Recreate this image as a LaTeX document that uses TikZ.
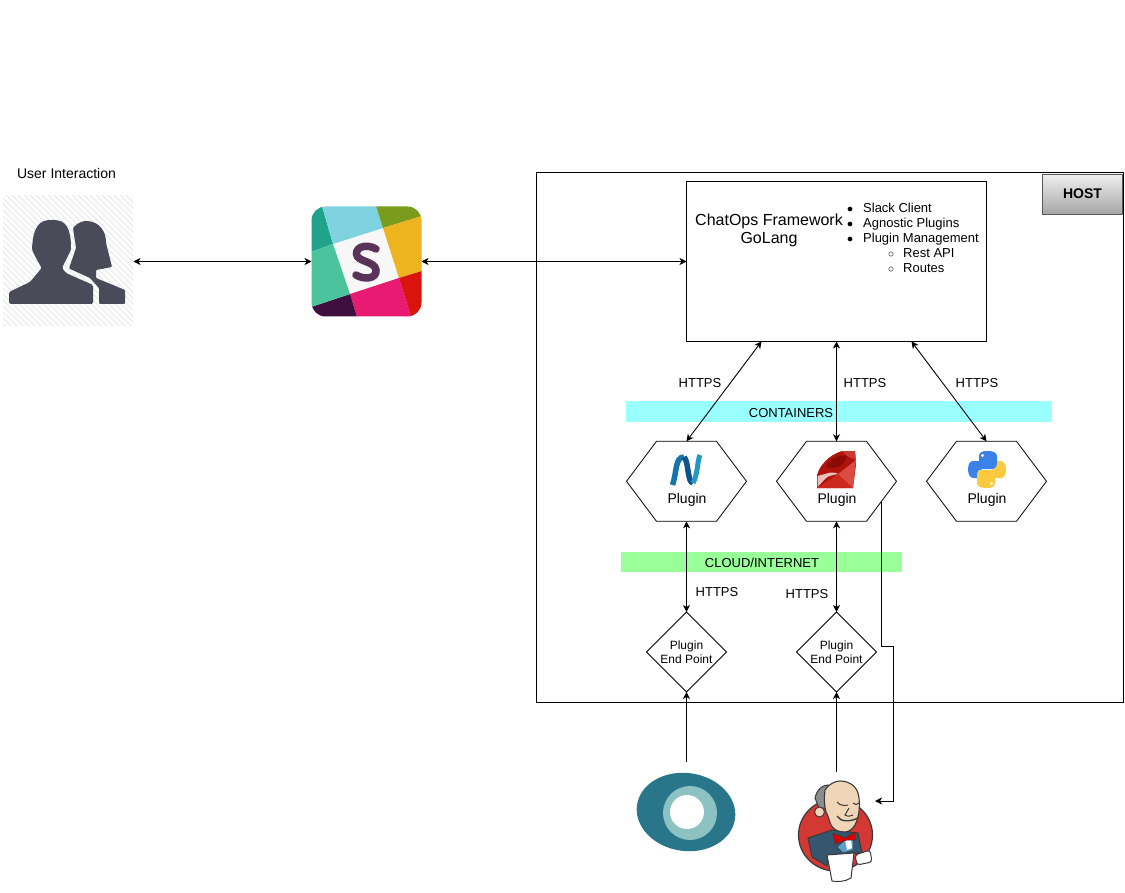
\documentclass[tikz,border=0pt]{standalone}
\usepackage{fontspec}
\setmainfont{Liberation Sans}
\usetikzlibrary{calc,arrows.meta,shapes.geometric,shapes.symbols}
\definecolor{bluebar}{HTML}{99FFFF}
\definecolor{greenbar}{HTML}{99FF99}
\definecolor{usergray}{HTML}{494C58}
\definecolor{eyeteal}{HTML}{29768A}
\definecolor{eyering}{HTML}{8CC2C2}
\definecolor{jenknavy}{HTML}{35566E}
\definecolor{jenkred}{HTML}{D33833}
\definecolor{jenkskin}{HTML}{F0D6B7}
\definecolor{jenkline}{HTML}{3A3A3A}
\def\fsmall{\fontsize{12}{13.5}\selectfont}
\def\fnorm{\fontsize{13}{15}\selectfont}
\def\fmid{\fontsize{14}{16}\selectfont}
\def\fbig{\fontsize{16}{18}\selectfont}
\def\drawlink{\draw[link]}
\def\plugnode{\node[plughex]}
\def\endnode{\node[enddiamond]}
\def\snakepath{(979,461) -- (979,456) .. controls (979,452) and (983,451) .. (987,451)
  .. controls (992,451) and (997,452) .. (997,456) -- (997,465)
  .. controls (997,467) and (995,469) .. (993,469) -- (983,469)
  .. controls (980,469) and (977,471) .. (977,474) -- (977,478) -- (973,478)
  .. controls (970,478) and (968,474) .. (968,469.5)
  .. controls (968,464) and (970,461) .. (973,461) -- cycle}
\tikzset{
  link/.style={line width=.9pt,{Stealth[length=7pt,width=7pt,inset=2pt]}-{Stealth[length=7pt,width=7pt,inset=2pt]}},
  oneway/.style={line width=.9pt,-{Stealth[length=7pt,width=7pt,inset=2pt]}},
  plughex/.style={shape=signal,signal to=east and west,signal pointer angle=106.26,
    draw,line width=.8pt,minimum width=120pt,minimum height=80pt,inner sep=0pt,outer sep=0pt},
  enddiamond/.style={shape=diamond,draw,line width=.8pt,minimum width=80pt,minimum height=80pt,
    inner sep=0pt,outer sep=0pt,align=center,font=\fsmall},
  iconbox/.style={inner sep=0pt,outer sep=0pt},
  caption/.style={inner sep=0pt,font=\fnorm},
  listitem/.style={inner sep=0pt,anchor=base west,font=\fnorm},
}
\begin{document}
\begin{tikzpicture}[x=1pt,y=-1pt]
\useasboundingbox (0,0) rectangle (1125,893);

% -------- boxes ---------
\node[draw,line width=.9pt,minimum width=587pt,minimum height=529.5pt,inner sep=0pt] (hostbox) at (830,437.7) {};
\node[draw=black!65,line width=.8pt,top color=black!6,bottom color=black!35,minimum width=80pt,minimum height=40pt,
  inner sep=0pt,font=\fmid\bfseries] (hosttag) at (1082.5,194) {HOST};
\node[draw,line width=.9pt,minimum width=300pt,minimum height=160pt,inner sep=0pt,outer sep=0pt] (chatops) at (836.5,261.5) {};
\node[inner sep=0pt,align=center,font=\fbig] (chatopstext) at (769,230.5) {ChatOps Framework\\GoLang};
\foreach \i/\y/\t in {1/213/Slack Client,2/228/Agnostic Plugins,3/243/Plugin Management}
  \node[listitem] (item\i) at (863,\y) {\llap{$\bullet$\hspace{10pt}}\t};
\foreach \i/\y/\t in {4/258/Rest API,5/273/Routes}
  \node[listitem] (item\i) at (903,\y) {\llap{$\circ$\hspace{9pt}}\t};
\node[fill=bluebar,minimum width=426pt,minimum height=21pt,inner sep=0pt] (containers) at (839,411.5) {};
\node[caption] (containerstext) at (791,413) {CONTAINERS};
\node[fill=greenbar,minimum width=281pt,minimum height=20pt,inner sep=0pt] (cloud) at (761.5,561.8) {};
\node[caption] (cloudtext) at (762,562.5) {CLOUD/INTERNET};

% -------- plugins ---------
\plugnode (netplug) at (686.5,481.3) {};
\plugnode (rubyplug) at (836.5,481.3) {};
\plugnode (pyplug) at (986.5,481.3) {};
\foreach \n/\x in {net/687,ruby/837,py/987}
  \node[inner sep=0pt,anchor=base,font=\fmid] (\n label) at (\x,503) {Plugin};
\endnode (netend) at (686.5,652) {Plugin\\End Point};
\endnode (rubyend) at (836.5,652) {Plugin\\End Point};

% -------- icon places, the connectors end on these ---------
\node[iconbox,minimum width=130pt,minimum height=130pt] (users) at (68.5,261.5) {};
\node[iconbox,minimum width=110pt,minimum height=110pt] (slack) at (366.5,261.5) {};
\node[iconbox,minimum width=100pt,minimum height=100pt] (eye) at (686.5,812) {};
\node[iconbox,minimum width=76pt,minimum height=112pt] (jenkins) at (836.5,828) {};
\node[inner sep=0pt,font=\fmid] (usertext) at (66.5,173) {User Interaction};

% users
\begin{scope}
\clip (3,196) rectangle (133,326);
\foreach \k in {0,6,...,264}
  \draw[black!8,line width=1.2pt] (3+\k-2,328) -- ++(-134,-134);
\end{scope}
\fill[usergray,rounded corners=1.5pt] (9,304) -- (9,292) -- (30,282) -- (41.7,268) -- (36,258) -- (32,250)
  .. controls (33,226) and (40,220) .. (52,220) .. controls (66,220) and (71,228) .. (71,250)
  -- (62,268) -- (66,273) -- (93,285) -- (93,304) -- cycle;
\fill[usergray,rounded corners=1pt] (69,268.5) -- (76,248) -- (73,228)
  .. controls (78,222) and (84,221) .. (87,221) .. controls (100,222) and (106,232) .. (106,243)
  -- (112,267) -- (96,270) -- (96,278) -- (125,290) -- (125,304) -- (99,304) -- (99,288) -- (90,278) -- cycle;

% slack
\begin{scope}
\clip[rounded corners=14pt] (311.5,206.5) rectangle (421.5,316.5);
\fill[fill=black!3] (333,244) -- (383,228) -- (399,278) -- (350,294) -- cycle;
\fill[fill={rgb,255:red,31;green,163;blue,139}] (311,206) -- (322,206) -- (333,244) -- (311,252) -- cycle;
\fill[fill={rgb,255:red,127;green,211;blue,224}] (322,206) -- (376,206) -- (383,228) -- (333,244) -- cycle;
\fill[fill={rgb,255:red,122;green,156;blue,28}] (376,206) -- (422,206) -- (422,216) -- (383,228) -- cycle;
\fill[fill={rgb,255:red,238;green,180;blue,32}] (383,228) -- (422,216) -- (422,271) -- (399,278) -- cycle;
\fill[fill={rgb,255:red,216;green,20;blue,12}] (399,278) -- (422,271) -- (422,317) -- (411,317) -- cycle;
\fill[fill={rgb,255:red,233;green,26;blue,114}] (350,294) -- (399,278) -- (411,317) -- (357,317) -- cycle;
\fill[fill={rgb,255:red,63;green,15;blue,63}] (311,307) -- (350,294) -- (357,317) -- (311,317) -- cycle;
\fill[fill={rgb,255:red,75;green,196;blue,158}] (311,252) -- (333,244) -- (350,294) -- (311,307) -- cycle;
\draw[line width=7.5pt,line cap=round,color={rgb,255:red,90;green,51;blue,88}] (376,249)
  .. controls (368,244) and (356,246) .. (356.5,254) .. controls (357,262) and (375,261) .. (376,270)
  .. controls (377,279) and (364,280) .. (356,275);
\end{scope}

% net, ruby, python
\draw[line width=5.5pt,color={rgb,255:red,22;green,118;blue,171}] (672.5,485) .. controls (677,472) and (675,457) .. (684,457);
\draw[line width=5.5pt,color={rgb,255:red,14;green,84;blue,140}] (684,457) .. controls (689,462) and (687,482) .. (693,483);
\draw[line width=5pt,color={rgb,255:red,36;green,150;blue,200}] (693,483) .. controls (698,474) and (697,462) .. (700,455);
\fill[fill={rgb,255:red,176;green,18;blue,12}] (817,488) -- (817,475) .. controls (819,467) and (828,455) .. (842,451)
  -- (855,451) -- (856,465) -- (853,488) -- cycle;
\fill[fill={rgb,255:red,205;green,40;blue,30}] (817,488) -- (838,474) -- (853,488) -- cycle;
\fill[fill={rgb,255:red,216;green,76;blue,66}] (838,474) -- (856,460) -- (853,488) -- cycle;
\fill[fill={rgb,255:red,198;green,60;blue,50}] (842,451) -- (855,451) -- (856,460) -- (847,456) -- cycle;
\fill[fill={rgb,255:red,240;green,190;blue,185}] (817.5,487) -- (817.5,476) -- (825,474) .. controls (830,472) and (835,472) .. (838,474) .. controls (833,475) and (828,476) .. (826,478) -- cycle;
\fill[fill={rgb,255:red,140;green,10;blue,6}] (826,467) .. controls (830,458) and (838,455) .. (847,456) .. controls (845,464) and (838,470) .. (826,467) -- cycle;
\fill[fill={rgb,255:red,59;green,130;blue,232}] \snakepath;
\fill[white] (982.5,455.5) circle (1.7);
\begin{scope}[rotate around={180:(987,469.5)}]
\fill[fill={rgb,255:red,252;green,201;blue,63}] \snakepath;
\fill[white] (982.5,455.5) circle (1.7);
\end{scope}

% eye
\fill[eyeteal,rotate around={-8:(686,812)}] (686,812) ellipse (49.5 and 39);
\fill[eyering] (690,813) circle (27);
\fill[white] (687,812) circle (17);

% jenkins
\draw[jenkline,fill=jenkred,line width=1.2pt] (835.5,835) ellipse (37 and 36);
\draw[jenkline,fill=jenknavy,line width=1pt] (808,838) -- (832,830) -- (858,833) -- (862,853) -- (827,855) -- (827,866) -- (812,857) -- cycle;
\fill[fill=black!45,draw=jenkline,line width=1pt] (815,798) .. controls (817,789) and (823,785) .. (828,785)
  -- (828,808) -- (819,808) -- cycle;
\fill[fill=jenkskin,draw=jenkline,line width=1.1pt] (825,790) .. controls (829,784) and (835,781) .. (840,781)
  .. controls (850,781) and (857,787) .. (858.5,795) .. controls (860,803) and (860,815) .. (855,825)
  .. controls (852,830) and (848,832) .. (845,832) .. controls (838,832) and (834,830) .. (831,825)
  .. controls (829,820) and (828,815) .. (826,812) .. controls (824,805) and (824,797) .. (825,790) -- cycle;
\fill[fill=jenkskin,draw=jenkline,line width=1pt] (819.5,812) circle (5);
\draw[line width=1pt,jenkline] (837,802) .. controls (840,805.5) and (844,806) .. (848,805);
\draw[line width=1pt,jenkline] (853,803) .. controls (855,805) and (857,805) .. (859,803);
\draw[line width=1pt,jenkline] (849,808) -- (845,815) .. controls (848,817) and (851,816) .. (853,815);
\draw[line width=1.4pt,jenkline] (837,816) .. controls (840,822) and (850,822) .. (858,818);
\fill[fill={rgb,255:red,90;green,160;blue,200},draw=jenkline,line width=.5pt] (837,847) -- (845,840) -- (853,838) -- (853,850) -- (843,853) -- cycle;
\fill[fill=white] (845,840) -- (851,838.5) -- (852,848) -- (847,850) -- cycle;
\fill[fill=red!85!black,draw=jenkline,line width=.5pt] (833,833) -- (845,838) -- (855,832) -- (855,840) -- (847,840) -- (835,844) -- cycle;
\fill[fill=white,draw=jenkline,line width=1pt] (827,855) -- (854,853) -- (851,878) .. controls (845,882) and (836,882) .. (832,881) -- cycle;
\fill[fill=white,draw=jenkline,line width=1pt,rounded corners=3pt] (855,855) -- (870,850) -- (872,862) -- (857,865) -- cycle;

% -------- connectors ---------
\drawlink (users.east) -- (slack.west);
\drawlink (slack.east) -- (chatops.west);
\coordinate (chatl) at ($ (chatops.south west)!.25!(chatops.south east) $);
\coordinate (chatr) at ($ (chatops.south west)!.75!(chatops.south east) $);
\drawlink (chatl) -- (netplug.north);
\drawlink (chatops.south) -- (rubyplug.north);
\drawlink (chatr) -- (pyplug.north);
\drawlink (netplug.south) -- (netend.north);
\drawlink (rubyplug.south) -- (rubyend.north);
\draw[oneway] (eye.north) -- (netend.south);
\draw[oneway] (jenkins.north) -- (rubyend.south);
\coordinate (rubyout) at (881,502.3);
\coordinate (jog1) at (881,646);
\coordinate (jog2) at (893,646);
\coordinate (jog3) at (893,801);
\coordinate (jenkinsin) at (875,801);
\draw[oneway] (rubyout) -- (jog1) -- (jog2) -- (jog3) -- (jenkinsin);

\node[caption] (https1) at (700,383) {HTTPS};
\node[caption] (https2) at (865,383) {HTTPS};
\node[caption] (https3) at (977,383) {HTTPS};
\node[caption] (https4) at (717,592) {HTTPS};
\node[caption] (https5) at (807,594) {HTTPS};
\end{tikzpicture}
\end{document}
